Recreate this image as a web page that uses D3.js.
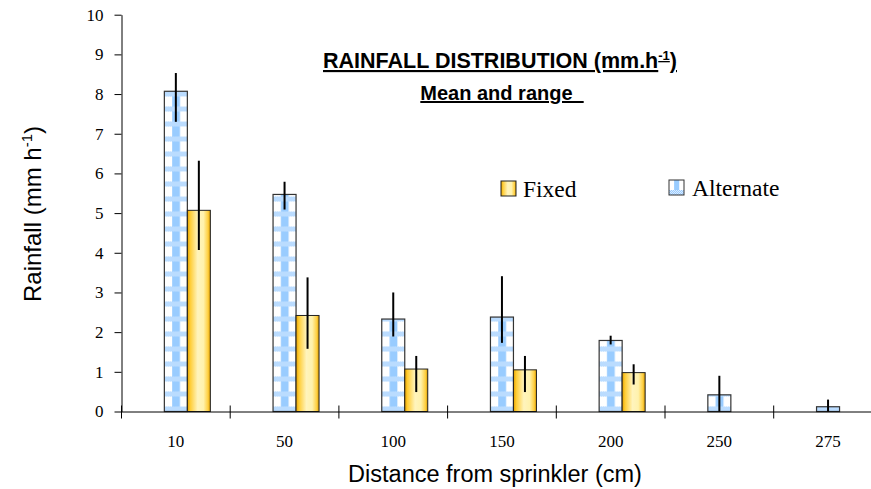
<!DOCTYPE html>
<html>
<head>
<meta charset="utf-8">
<script src="https://cdnjs.cloudflare.com/ajax/libs/d3/7.8.5/d3.min.js"></script>
<style>
	body { margin: 0; background: #fff; }
	svg { display: block; }
</style>
</head>
<body>
<svg class="chart"></svg>
<script>
// Data (mean and range, mm/h)
var categories = ["10", "50", "100", "150", "200", "250", "275"];
var alternateMean = [8.07, 5.47, 2.33, 2.38, 1.79, 0.42, 0.12];
var alternateMin = [7.30, 5.09, 1.89, 1.73, 1.69, 0.00, 0.00];
var alternateMax = [8.53, 5.79, 3.00, 3.41, 1.91, 0.90, 0.30];
var fixedMean = [5.07, 2.42, 1.07, 1.05, 0.98, null, null];
var fixedMin = [4.07, 1.58, 0.49, 0.49, 0.68, null, null];
var fixedMax = [6.32, 3.38, 1.40, 1.40, 1.19, null, null];
var yTicks = [0, 1, 2, 3, 4, 5, 6, 7, 8, 9, 10];

function startScript() {
	"use strict";
	var width = 871, height = 489;
	var serif = "'Liberation Serif', 'Times New Roman', serif";
	var sans = "'Liberation Sans', Arial, sans-serif";

	var svg = d3.select(".chart").attr("width", width).attr("height", height);
	var defs = svg.append("defs");

	// scales
	var y = d3.scaleLinear().domain([0, 10]).range([411.5, 14.7]);
	var x = d3.scaleBand().domain(categories).range([121.5, 121.5 + 7 * 108.7]);
	var slot = d3.scaleBand().domain(["gap", "Alternate", "Fixed"])
		.range([0, x.bandwidth()]).paddingOuter(0.863);
	var bw = slot.bandwidth();

	// small dither used by the blue checks
	var checker = defs.append("pattern").attr("id", "checker")
		.attr("patternUnits", "userSpaceOnUse").attr("width", 2).attr("height", 2);
	checker.append("rect").attr("width", 2).attr("height", 2).attr("fill", "#dcecff");
	checker.append("rect").attr("width", 1).attr("height", 1).attr("fill", "#99ccff");
	checker.append("rect").attr("x", 1).attr("y", 1).attr("width", 1).attr("height", 1).attr("fill", "#99ccff");

	// plaid pattern, one per box so the stripe sits in the middle
	function plaid(id, x0, w, y0) {
		var p = defs.append("pattern").attr("id", id)
			.attr("patternUnits", "userSpaceOnUse")
			.attr("x", x0).attr("y", y0).attr("width", w).attr("height", 15);
		p.append("rect").attr("width", w).attr("height", 15).attr("fill", "#fff");
		p.append("rect").attr("x", w * 0.34).attr("width", w * 0.34).attr("height", 15).attr("fill", "#99ccff");
		p.append("rect").attr("y", 10).attr("width", w).attr("height", 5).attr("fill", "url(#checker)");
		return "url(#" + id + ")";
	}

	// gold gradient for Fixed
	var grad = defs.append("linearGradient").attr("id", "gold")
		.attr("x1", "0%").attr("x2", "100%").attr("y1", "0%").attr("y2", "0%");
	[[0, "#e3a000"], [0.12, "#ffcc33"], [0.45, "#fff4bd"], [0.7, "#fff2ad"], [0.9, "#ffcf40"], [1, "#d99a00"]]
		.forEach(function(s) {
			grad.append("stop").attr("offset", s[0]).attr("stop-color", s[1]);
		});

	var alt = categories.map(function(c, i) {
		return {cat: c, mean: alternateMean[i], lo: alternateMin[i], hi: alternateMax[i], i: i};
	});
	var fix = categories.map(function(c, i) {
		return {cat: c, mean: fixedMean[i], lo: fixedMin[i], hi: fixedMax[i], i: i};
	}).filter(function(d) { return d.mean !== null; });

	// bars
	svg.selectAll("rect.alt").data(alt).enter().append("rect")
		.attr("class", "alt")
		.attr("x", function(d) { return x(d.cat) + slot("Alternate"); })
		.attr("y", function(d) { return y(d.mean); })
		.attr("width", bw)
		.attr("height", function(d) { return y(0) - y(d.mean); })
		.attr("fill", function(d) { return plaid("alt" + d.i, x(d.cat) + slot("Alternate"), bw, y(0)); })
		.attr("stroke", "#333").attr("stroke-width", 1.2);

	svg.selectAll("rect.fix").data(fix).enter().append("rect")
		.attr("class", "fix")
		.attr("x", function(d) { return x(d.cat) + slot("Fixed"); })
		.attr("y", function(d) { return y(d.mean); })
		.attr("width", bw)
		.attr("height", function(d) { return y(0) - y(d.mean); })
		.attr("fill", "url(#gold)")
		.attr("stroke", "#222").attr("stroke-width", 1);

	// range lines
	function rangeLines(data, name) {
		svg.selectAll("line.err" + name).data(data).enter().append("line")
			.attr("class", "err" + name)
			.attr("x1", function(d) { return x(d.cat) + slot(name) + bw / 2; })
			.attr("x2", function(d) { return x(d.cat) + slot(name) + bw / 2; })
			.attr("y1", function(d) { return y(d.lo); })
			.attr("y2", function(d) { return y(d.hi); })
			.attr("stroke", "#000").attr("stroke-width", 2);
	}
	rangeLines(alt, "Alternate");
	rangeLines(fix, "Fixed");

	// y axis
	var yAxis = svg.append("g").attr("transform", "translate(121.5,0)")
		.call(d3.axisLeft(y).tickValues(yTicks).tickSize(7).tickPadding(11).tickSizeOuter(0));
	yAxis.select(".domain").attr("stroke", "#000");
	yAxis.selectAll("text").attr("font-family", serif).attr("font-size", 17).attr("fill", "#000");

	// x axis: labels centred, ticks on category boundaries crossing the line
	var xAxis = svg.append("g").attr("transform", "translate(0," + y(0) + ")")
		.call(d3.axisBottom(x).tickSize(0).tickPadding(23).tickSizeOuter(0));
	xAxis.select(".domain").attr("stroke", "#000");
	xAxis.selectAll("text").attr("font-family", serif).attr("font-size", 17).attr("fill", "#000");
	var edges = categories.map(function(c) { return x(c); }).concat([x.range()[1]]);
	xAxis.selectAll("line.edge").data(edges).enter().append("line")
		.attr("class", "edge")
		.attr("x1", function(d) { return d; }).attr("x2", function(d) { return d; })
		.attr("y1", -6).attr("y2", 7)
		.attr("stroke", "#000");

	// legend
	var legend = svg.append("g").attr("font-family", serif).attr("font-size", 23.5);
	legend.append("rect").attr("x", 501).attr("y", 181).attr("width", 15).attr("height", 15)
		.attr("fill", "url(#gold)").attr("stroke", "#222");
	legend.append("text").attr("x", 523).attr("y", 197).text("Fixed");
	legend.append("rect").attr("x", 669).attr("y", 180).attr("width", 15).attr("height", 15)
		.attr("fill", plaid("altLegend", 669, 15, 180)).attr("stroke", "#333");
	legend.append("text").attr("x", 692).attr("y", 196).text("Alternate");

	// title
	var t1 = svg.append("text").attr("x", 500).attr("y", 68)
		.attr("text-anchor", "middle").attr("font-family", sans).attr("font-weight", "bold")
		.attr("font-size", 21.5).attr("text-decoration", "underline");
	t1.append("tspan").text("RAINFALL DISTRIBUTION (mm.h");
	t1.append("tspan").attr("dy", -8).attr("font-size", 13).text("-1");
	t1.append("tspan").attr("dy", 8).text(")");

	svg.append("text").attr("x", 502).attr("y", 100)
		.attr("text-anchor", "middle").attr("font-family", sans).attr("font-weight", "bold")
		.attr("font-size", 20).attr("text-decoration", "underline")
		.style("white-space", "pre")
		.text("Mean and range  ");

	// axis titles
	var yt = svg.append("text").attr("transform", "translate(41,214) rotate(-90)")
		.attr("text-anchor", "middle").attr("font-family", sans).attr("font-size", 24);
	yt.append("tspan").text("Rainfall (mm h");
	yt.append("tspan").attr("dy", -9).attr("font-size", 15).text("-1");
	yt.append("tspan").attr("dy", 9).text(")");

	svg.append("text").attr("x", 495).attr("y", 482)
		.attr("text-anchor", "middle").attr("font-family", sans).attr("font-size", 23.5)
		.text("Distance from sprinkler (cm)");
}
startScript();
</script>
</body>
</html>
